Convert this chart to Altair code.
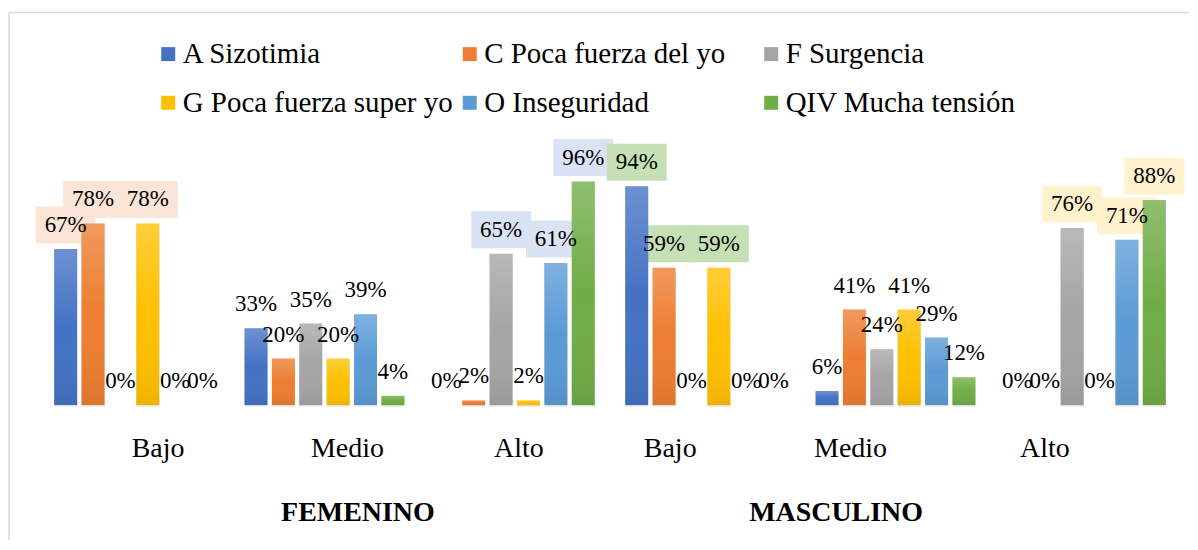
import altair as alt
import pandas as pd

FONT = "Liberation Serif"

series = ["A Sizotimia", "C Poca fuerza del yo", "F Surgencia",
          "G Poca fuerza super yo", "O Inseguridad", "QIV Mucha tensión"]
levels = ["Bajo", "Medio", "Alto"]
genders = ["FEMENINO", "MASCULINO"]

fem_bajo = [67, 78, 0, 78, 0, 0]
fem_medio = [33, 20, 35, 20, 39, 4]
fem_alto = [0, 2, 65, 2, 61, 96]
masc_bajo = [94, 59, 0, 59, 0, 0]
masc_medio = [6, 41, 24, 41, 29, 12]
masc_alto = [0, 0, 76, 0, 71, 88]

colors = ["#4472C4", "#ED7D31", "#A5A5A5", "#FFC000", "#5B9BD5", "#70AD47"]
highlight = {("FEMENINO", "Bajo"): "#FBE5D6", ("FEMENINO", "Alto"): "#DAE3F3",
             ("MASCULINO", "Bajo"): "#C5E0B4", ("MASCULINO", "Alto"): "#FFF2CC"}

values = {
    "FEMENINO": [fem_bajo, fem_medio, fem_alto],
    "MASCULINO": [masc_bajo, masc_medio, masc_alto],
}

rows = []
keys = []
for g in genders:
    for lvl, vals in zip(levels, values[g]):
        key = f"{g}|{lvl}"
        keys.append(key)
        for s, v in zip(series, vals):
            bg = highlight.get((g, lvl), "") if v >= 50 else ""
            rows.append({"key": key, "series": s, "value": v,
                         "lab": f"{v}%", "bg": bg})
df = pd.DataFrame(rows)
gdf = pd.DataFrame({"gender": genders})

# per-category label nudges (as in the original picture)
cat_offsets = [24, 23, 4, -35, -45, -41]
gender_offsets = [33, -60]

grad = {"gradient": "linear", "x1": 0, "y1": 0, "x2": 0, "y2": 1,
        "stops": [{"offset": 0, "color": "rgba(255,255,255,0.22)"},
                  {"offset": 0.5, "color": "rgba(255,255,255,0.0)"},
                  {"offset": 1, "color": "rgba(0,0,0,0.07)"}]}

color_enc = alt.Color(
    "series:N", sort=series,
    scale=alt.Scale(domain=series, range=colors),
    legend=alt.Legend(title=None, orient="none", legendX=115, legendY=-133,
                      direction="horizontal", columns=3, gridAlign="all",
                      columnPadding=2, rowPadding=19,
                      symbolType="square", symbolSize=196, symbolStrokeWidth=0,
                      labelFont=FONT, labelFontSize=29, labelColor="black",
                      labelOffset=0, padding=0, labelLimit=400))

x = alt.X("key:N", sort=keys,
          scale=alt.Scale(paddingInner=0.16, paddingOuter=0.08),
          axis=alt.Axis(title=None, domain=False, ticks=False, grid=False,
                        labelFont=FONT,
                        labelFontSize=28, labelColor="black", labelPadding=30,
                        labelAngle=0, labelExpr="split(datum.value, '|')[1]",
                        labelOffset={"condition": [
                            {"test": f"datum.value === '{k}'", "value": o}
                            for k, o in zip(keys[:-1], cat_offsets[:-1])],
                            "value": cat_offsets[-1]}))
xo = alt.XOffset("series:N", sort=series,
                 scale=alt.Scale(domain=series, paddingInner=0.16, paddingOuter=0))
y = alt.Y("value:Q", scale=alt.Scale(domain=[0, 100]), axis=None)

base = alt.Chart(df)
bg = base.transform_filter("datum.bg !== ''").mark_point(
    shape="M-1,-0.617H1V0.617H-1Z", size=3600, filled=True, opacity=1,
    strokeWidth=0, yOffset=-24
).encode(x=x, xOffset=xo, y=y, fill=alt.Fill("bg:N", scale=None))
shadow = base.mark_bar(color="black", opacity=0.13, xOffset=2.5, yOffset=1.5).encode(
    x=x, xOffset=xo, y=y)
bars = base.mark_bar().encode(x=x, xOffset=xo, y=y, color=color_enc)
overlay = base.mark_bar(fill=grad).encode(x=x, xOffset=xo, y=y)
text = base.mark_text(font=FONT, fontSize=23, dy=-24, baseline="middle",
                      color="black").encode(x=x, xOffset=xo, y=y, text="lab:N")

headers = alt.Chart(gdf).mark_point(opacity=0).encode(
    x=alt.X("gender:N", sort=genders,
            scale=alt.Scale(paddingInner=0, paddingOuter=0),
            axis=alt.Axis(title=None, orient="bottom", domain=False, ticks=False,
                          grid=False,
                          labelFont=FONT, labelFontSize=28, labelFontWeight="bold",
                          labelColor="black", labelPadding=94, labelAngle=0,
                          labelOffset={"condition": {
                              "test": f"datum.value === '{genders[0]}'",
                              "value": gender_offsets[0]},
                              "value": gender_offsets[1]})),
    y=alt.value(100))

fd = alt.Chart(pd.DataFrame({"z": [0]}))
frame_top = fd.mark_rule(color="#D9D9D9", strokeWidth=1.5).encode(
    x=alt.value(-30), x2=alt.value(1152), y=alt.value(-160))
frame_left = fd.mark_rule(color="#D9D9D9", strokeWidth=1.5).encode(
    x=alt.value(-30), y=alt.value(-160), y2=alt.value(369))

main = alt.layer(bg, shadow, bars, overlay, text)

chart = alt.layer(frame_top, frame_left, main, headers).resolve_scale(
    x="independent"
).properties(
    width=1144, height=233.3,
    padding={"left": 0, "top": 3, "right": 0, "bottom": 0}
).configure(
    background="white", font=FONT
).configure_view(
    strokeWidth=0, stroke="transparent"
).configure_text(font=FONT).configure_legend(labelFont=FONT)

chart.save("out.html", embed_options={"renderer": "svg", "actions": False})
